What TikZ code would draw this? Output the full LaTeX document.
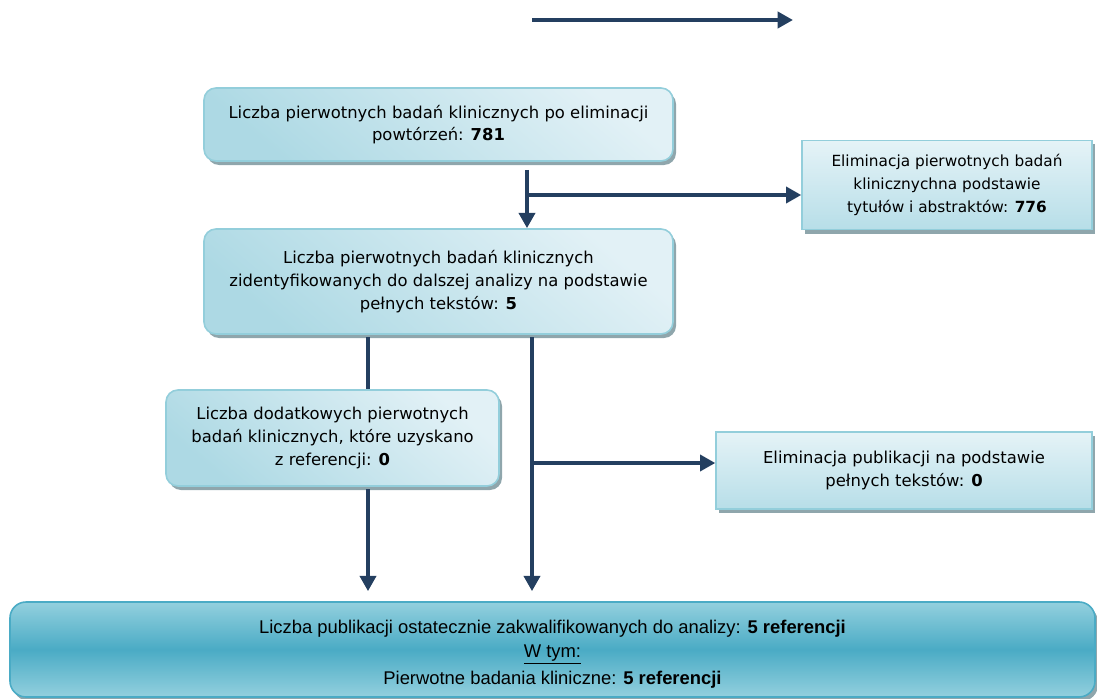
\documentclass[tikz,border=0pt]{standalone}
\usepackage{fontspec}
\setmainfont{DejaVu Sans}
\newfontfamily\finalsans{Liberation Sans}
\usetikzlibrary{arrows.meta,shadows}

\definecolor{navy}{HTML}{243F60}
\definecolor{edgecyan}{HTML}{93CEDB}
\definecolor{paledark}{HTML}{ADD9E4}
\definecolor{palelight}{HTML}{E2F1F6}
\definecolor{recttop}{HTML}{E5F3F7}
\definecolor{rectbot}{HTML}{B7DEE8}
\definecolor{shadowgrey}{HTML}{8FA6AC}
\definecolor{deepcyan}{HTML}{4AABC5}
\definecolor{softcyan}{HTML}{93D0DE}

\tikzset{
  boxfont/.style={font=\fontsize{12.3}{17}\selectfont, text=black},
  softshadow/.style={drop shadow={shadow xshift=2.25pt, shadow yshift=-3pt, fill=shadowgrey, opacity=1}},
  roundbox/.style={boxfont, softshadow, draw=edgecyan, line width=1.2pt, rounded corners=9pt,
    inner sep=0pt, align=center, top color=palelight, bottom color=paledark, shading angle=-40},
  flatbox/.style={boxfont, softshadow, draw=edgecyan, line width=1pt,
    inner sep=0pt, align=center, top color=recttop, bottom color=rectbot},
  finalbox/.style={softshadow, draw=deepcyan, line width=1.2pt, rounded corners=12pt,
    inner sep=0pt, align=center, top color=softcyan, bottom color=softcyan, middle color=deepcyan,
    font=\finalsans\fontsize{13.8}{16.5}\selectfont},
  link/.style={draw=navy, line width=3pt},
  arr/.style={link, -{Triangle[width=12pt,length=11.5pt]}},
}

\begin{document}
\begin{tikzpicture}[x=0.75pt,y=-0.75pt]
\useasboundingbox (0,0) rectangle (1097,699);

% free-standing arrow at the top
\coordinate (top0) at (532,20);
\coordinate (top1) at (793,20);
\draw[arr] (top0) -- (top1);

% boxes
\node[roundbox, minimum width={469*0.75pt}, minimum height={73*0.75pt}] (b1) at (438.5,124.5)
  {Liczba pierwotnych badań klinicznych po eliminacji\\powtórzeń: \textbf{781}};

\node[flatbox, font=\fontsize{11.5}{17}\selectfont, minimum width={290*0.75pt}, minimum height={89*0.75pt}] (r1) at (947,185)
  {Eliminacja pierwotnych badań\\klinicznychna podstawie\\tytułów i abstraktów: \textbf{776}};

\node[roundbox, minimum width={469*0.75pt}, minimum height={105*0.75pt}] (b2) at (438.5,281.5)
  {Liczba pierwotnych badań klinicznych\\zidentyfikowanych do dalszej analizy na podstawie\\pełnych tekstów: \textbf{5}};

\node[roundbox, minimum width={333*0.75pt}, minimum height={96*0.75pt}] (b3) at (332.5,438)
  {Liczba dodatkowych pierwotnych\\badań klinicznych, które uzyskano\\z referencji: \textbf{0}};

\node[flatbox, minimum width={376*0.75pt}, minimum height={77*0.75pt}] (r2) at (904,470.5)
  {Eliminacja publikacji na podstawie\\pełnych tekstów: \textbf{0}};

\node[finalbox, minimum width={1085*0.75pt}, minimum height={95*0.75pt}] (b4) at (552.5,649.5)
  {\mbox{}\\[1pt]
   Liczba publikacji ostatecznie zakwalifikowanych do analizy: \textbf{5 referencji}\\[1pt]
   \underline{W tym:}\\[4pt]
   Pierwotne badania kliniczne: \textbf{5 referencji}};

% connectors
\coordinate (j1) at (527,195);
\coordinate (j2) at (532,463);
\coordinate (lft) at (368,0);

\draw[arr, shorten <=6pt] (b1.south -| j1) -- (b2.north -| j1);
\draw[arr] (j1) -- (r1.west |- j1);

\draw[link, shorten <=2pt] (b2.south -| lft) -- (b3.north -| lft);
\draw[arr, shorten <=2pt, shorten >=7.5pt] (b2.south -| j2) -- (b4.north -| j2);
\draw[arr] (j2) -- (r2.west |- j2);
\draw[arr, shorten <=2pt, shorten >=7.5pt] (b3.south -| lft) -- (b4.north -| lft);
\end{tikzpicture}
\end{document}
